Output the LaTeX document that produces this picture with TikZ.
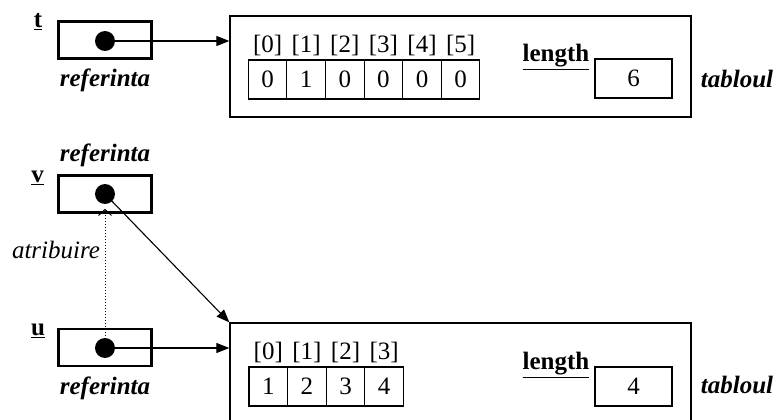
\documentclass[tikz,border=0pt]{standalone}
\usepackage{fontspec}
\setmainfont{Liberation Serif}
\usetikzlibrary{arrows.meta}

\begin{document}
\begin{tikzpicture}[x=1pt,y=-1pt,
        refbox/.style={draw,line width=2.6pt,minimum width=93pt,minimum height=37pt,inner sep=0pt},
        ptr/.style={circle,fill=black,minimum size=20pt,inner sep=0pt},
        objbox/.style={draw,line width=1.3pt,minimum width=461pt,minimum height=101pt,inner sep=0pt},
        cell/.style={draw,line width=1.1pt,minimum width=38.6pt,minimum height=39pt,inner sep=0pt,font=\fontsize{25}{28}\selectfont},
        idx/.style={inner sep=0pt,font=\fontsize{25}{28}\selectfont},
        lenbox/.style={draw,line width=1.1pt,minimum width=77pt,minimum height=39pt,inner sep=0pt,font=\fontsize{25}{28}\selectfont},
        lbl/.style={inner sep=0pt,font=\fontsize{25}{28}\selectfont\bfseries\itshape},
        var/.style={inner sep=0pt,font=\fontsize{25}{28}\selectfont\bfseries},
        link/.style={line width=1.1pt,-{Triangle[length=13pt,width=10pt]}}]
        %    \draw [help lines] (0,0) grid [step=20] (780,420);
        \useasboundingbox (0,0) rectangle (780,420);
        \clip (0,0) rectangle (780,420);

        % reference t and its array
        \path node (tname) [var] at (38,22) {\underline{t}};
        \path node (tbox) [refbox] at (105,40) {};
        \path node (tdot) [ptr] at (105,41) {};
        \path node (tref) [lbl] at (105,80) {referinta};

        \path node (tarr) [objbox] at (460.5,66.5) {};
        \foreach \i/\v in {0/0,1/1,2/0,3/0,4/0,5/0}
        {
            \path node (tc\i) [cell] at (267.6+38.6*\i,79.5) {\v};
            \path node (ti\i) [idx] at (267.6+38.6*\i,45) {[\i]};
        }
        \path node (tlen) [var] at (556,57) {\underline{length}};
        \path node (tlv) [lenbox] at (633.5,78.5) {6};
        \path node (ttab) [lbl] at (737,79) {tabloul};

        % reference v
        \path node (vref) [lbl] at (105,155) {referinta};
        \path node (vname) [var] at (37.5,178) {\underline{v}};
        \path node (vbox) [refbox] at (105,194) {};
        \path node (vdot) [ptr] at (105,194) {};

        % reference u and its array
        \path node (uname) [var] at (38,331) {\underline{u}};
        \path node (ubox) [refbox] at (105,347.5) {};
        \path node (udot) [ptr] at (105,348) {};
        \path node (uref) [lbl] at (105,388) {referinta};

        \path node (uarr) [objbox] at (460.5,373.5) {};
        \foreach \i/\v in {0/1,1/2,2/3,3/4}
        {
            \path node (uc\i) [cell] at (268.3+38.6*\i,386.5) {\v};
            \path node (ui\i) [idx] at (268.3+38.6*\i,352) {[\i]};
        }
        \path node (ulen) [var] at (556,365) {\underline{length}};
        \path node (ulv) [lenbox] at (633.5,386.5) {4};
        \path node (utab) [lbl] at (737,385) {tabloul};

        \path node (atr) [inner sep=0pt,font=\fontsize{25}{28}\selectfont\itshape] at (56,250) {atribuire};

        \draw[link] (tdot.center) -- (tdot.center -| tarr.west);
        \draw[link] (udot.center) -- (udot.center -| uarr.west);
        \draw[link] (vdot.center) -- (uarr.north west);
        \draw[line width=1pt,dotted,-{Straight Barb[length=6pt,width=13pt]},shorten >=-5pt] (udot.center) -- (vbox.south);

    \end{tikzpicture}
\end{document}
